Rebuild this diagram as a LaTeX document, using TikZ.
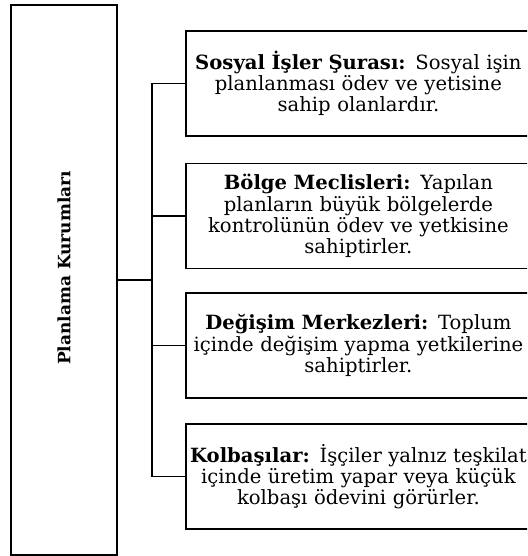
\documentclass[tikz,border=0pt]{standalone}
\usepackage{fontspec}
\setmainfont{DejaVu Serif}
\usetikzlibrary{positioning}

\tikzset{
  kutu/.style={draw, line width=1.8pt, rectangle, inner ysep=0pt, inner xsep=-17.5pt,
    minimum width=345pt, minimum height=105pt, text width=380pt, align=center,
    font=\fontsize{19.6}{21.3}\selectfont, anchor=west},
  dal/.style={line width=1.8pt}
}

\begin{document}
\begin{tikzpicture}[x=1pt, y=-1pt]
            \useasboundingbox (0,0) rectangle (527,556);
            \clip (0,0) rectangle (527,556);

            % left box
            \node[draw, line width=1.8pt, minimum width=106pt, minimum height=550pt, inner sep=0pt] (plan) at (64,280) {};
            \node[rotate=90, font=\fontsize{17}{20}\selectfont\bfseries] (baslik) at (64,268) {Planlama Kurumları};

            % right boxes
            \node[kutu] (sura) at (185,83.5) {\textbf{Sosyal İşler Şurası:} Sosyal işin\\planlanması ödev ve yetisine\\sahip olanlardır.};
            \node[kutu] (meclis) at (185,216) {\textbf{Bölge Meclisleri:} Yapılan\\planların büyük bölgelerde\\kontrolünün ödev ve yetkisine\\sahiptirler.};
            \node[kutu] (merkez) at (185,345.5) {\textbf{Değişim Merkezleri:} Toplum\\içinde değişim yapma yetkilerine\\sahiptirler.};
            \node[kutu] (kolbasi) at (185,476.5) {\textbf{Kolbaşılar:} İşçiler yalnız teşkilat\\içinde üretim yapar veya küçük\\kolbaşı ödevini görürler.};

            % connectors
            \coordinate (orta) at (152,280);
            \draw[line width=2.6pt] (plan.east) -- (orta);
            \draw[dal] (orta |- sura.west) -- (orta |- kolbasi.west);
            \draw[dal] (orta |- sura.west) -- (sura.west);
            \draw[dal] (orta |- meclis.west) -- (meclis.west);
            \draw[dal] (orta |- merkez.west) -- (merkez.west);
            \draw[dal] (orta |- kolbasi.west) -- (kolbasi.west);
\end{tikzpicture}
\end{document}
